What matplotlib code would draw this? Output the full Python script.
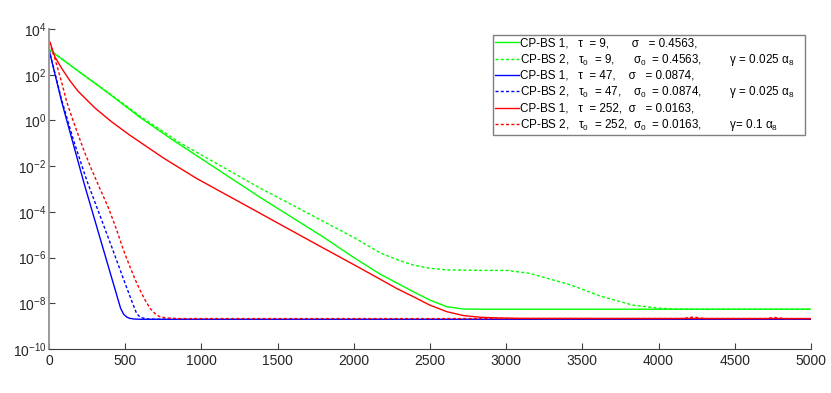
import matplotlib
matplotlib.use('Agg')
import matplotlib.pyplot as plt
from matplotlib.ticker import FixedLocator, FixedFormatter

plt.rcParams['font.family'] = ['Liberation Sans', 'DejaVu Sans']
plt.rcParams['mathtext.fontset'] = 'custom'
plt.rcParams['mathtext.rm'] = 'Liberation Sans'
plt.rcParams['mathtext.it'] = 'Liberation Sans:italic'

# CP-BS 1, tau = 9
g1_x = [0, 200, 400, 600, 800, 1000, 1383, 1800, 2000, 2172, 2280, 2390, 2499, 2610, 2719, 2828, 5000]
g1_y = [1.26e3, 132, 13.8, 1.32, 0.158, 2.1e-2, 4.4e-4, 7.9e-6, 1.0e-6, 1.9e-7, 7.9e-8,
        3.2e-8, 1.38e-8, 7.1e-9, 5.6e-9, 5.5e-9, 5.5e-9]

# CP-BS 2, tau0 = 9
g2_x = [0, 200, 400, 600, 859, 1056, 1384, 1514, 2000, 2172, 2280, 2390, 2499, 2610, 2828, 3003,
        3154, 3307, 3400, 3484, 3614, 3831, 3989, 4100, 4250, 5000]
g2_y = [1.26e3, 132, 14.5, 1.5, 0.105, 1.9e-2, 1.1e-3, 3.9e-4, 7.6e-6, 1.62e-6, 8.3e-7, 4.7e-7,
        3.4e-7, 2.9e-7, 2.75e-7, 2.75e-7, 2.04e-7, 1.05e-7, 7.1e-8, 4.5e-8, 2.1e-8, 8.3e-9,
        6.2e-9, 5.6e-9, 5.5e-9, 5.5e-9]

# CP-BS 1, tau = 47
b1_x = [0, 83, 230, 400, 470, 490, 510, 530, 560, 600, 5000]
b1_y = [1.26e3, 6.6, 1.78e-3, 2.34e-7, 6.0e-9, 3.3e-9, 2.5e-9, 2.19e-9, 2.04e-9, 2.0e-9, 2.0e-9]

# CP-BS 2, tau0 = 47
b2_x = [0, 83, 160, 247, 411, 500, 540, 575, 600, 620, 650, 700, 5000]
b2_y = [1.26e3, 7.9, 0.14, 2.45e-3, 3.0e-6, 7.2e-8, 1.41e-8, 3.55e-9, 2.4e-9, 2.24e-9,
        2.04e-9, 2.0e-9, 2.0e-9]

# CP-BS 1, tau = 252
r1_x = [0, 6, 39, 83, 138, 192, 302, 411, 531, 750, 969, 1297, 1515, 1800, 2000, 2171,
        2280, 2390, 2499, 2610, 2719, 2828, 2937, 3100, 5000]
r1_y = [1.6e3, 2.7e3, 603, 190, 53.7, 18.6, 3.47, 0.87, 0.224, 2.29e-2, 2.88e-3, 1.82e-4,
        2.88e-5, 2.6e-6, 4.9e-7, 1.15e-7, 4.5e-8, 1.95e-8, 8.3e-9, 4.3e-9, 2.9e-9, 2.45e-9,
        2.3e-9, 2.19e-9, 2.14e-9]

# CP-BS 2, tau0 = 252
r2_x = [0, 6, 20, 39, 57, 88, 116, 153, 192, 232, 280, 330, 390, 444, 490, 531, 565, 597,
        630, 663, 700, 728, 772, 850, 4150, 4230, 4300, 4700, 4760, 4820, 5000]
r2_y = [1.6e3, 2.7e3, 1.12e3, 500, 190, 35, 6.6, 1.23, 0.23, 4.3e-2, 7.0e-3, 1.2e-3,
        1.5e-4, 1.62e-5, 2.0e-6, 4.0e-7, 1.1e-7, 3.8e-8, 1.4e-8, 6.0e-9, 3.3e-9, 2.57e-9,
        2.29e-9, 2.14e-9, 2.14e-9, 2.5e-9, 2.14e-9, 2.14e-9, 2.4e-9, 2.14e-9, 2.14e-9]

labels = [
    'CP-BS 1,   τ  = 9,       σ   = 0.4563,',
    'CP-BS 2,   τ$_0$  = 9,      σ$_0$  = 0.4563,         γ = 0.025 α$_8$',
    'CP-BS 1,   τ  = 47,    σ   = 0.0874,',
    'CP-BS 2,   τ$_0$  = 47,    σ$_0$  = 0.0874,         γ = 0.025 α$_8$',
    'CP-BS 1,   τ  = 252,  σ   = 0.0163,',
    'CP-BS 2,   τ$_0$  = 252,  σ$_0$  = 0.0163,         γ= 0.1 α$_8$',
]

xticks = [0, 500, 1000, 1500, 2000, 2500, 3000, 3500, 4000, 4500, 5000]
yticks = [1e-10, 1e-8, 1e-6, 1e-4, 1e-2, 1e0, 1e2, 1e4]
ytick_labels = ['$10^{-10}$', '$10^{-8}$', '$10^{-6}$', '$10^{-4}$',
                '$10^{-2}$', '$10^{0}$', '$10^{2}$', '$10^{4}$']

fig = plt.figure(figsize=(8.31, 3.93), dpi=100)
ax = fig.add_axes([49 / 831, 1 - 349 / 393, (811 - 49) / 831, (349 - 29) / 393])

dash = (0, (2.2, 1.6))
lw = 1.0
ax.plot(g1_x, g1_y, color='#00ff00', lw=lw, label=labels[0])
ax.plot(g2_x, g2_y, color='#00ff00', lw=lw, ls=dash, label=labels[1])
ax.plot(b1_x, b1_y, color='#0000ff', lw=lw, label=labels[2])
ax.plot(b2_x, b2_y, color='#0000ff', lw=lw, ls=dash, label=labels[3])
ax.plot(r1_x, r1_y, color='#ff0000', lw=lw, label=labels[4])
ax.plot(r2_x, r2_y, color='#ff0000', lw=lw, ls=dash, label=labels[5])

ax.set_yscale('log')
ax.set_xlim(0, 5000)
ax.set_ylim(1e-10, 1e4)
ax.xaxis.set_major_locator(FixedLocator(xticks))
ax.yaxis.set_major_locator(FixedLocator(yticks))
ax.yaxis.set_major_formatter(FixedFormatter(ytick_labels))
ax.yaxis.set_minor_locator(FixedLocator([]))

ax.spines['top'].set_visible(False)
ax.spines['right'].set_visible(False)
ax.spines['left'].set_color('#9a9a9a')
ax.spines['left'].set_linewidth(1.4)
ax.spines['bottom'].set_color('#404040')
ax.spines['bottom'].set_linewidth(0.8)
ax.tick_params(direction='in', length=4, width=0.8, color='#404040',
               labelcolor='#262626', labelsize=10)
ax.tick_params(axis='y', pad=2)

# legend box: 493..805 px wide, top at 35 px
leg = ax.legend(loc='upper left',
                bbox_to_anchor=(493 / 831, 1 - 138 / 393, 312 / 831, 103 / 393),
                bbox_transform=fig.transFigure, mode='expand', fontsize=8.4,
                handlelength=2.0, handletextpad=0.1, labelspacing=0.2, borderpad=0.2,
                borderaxespad=0, fancybox=False, framealpha=1)
leg.get_frame().set_edgecolor('#7f7f7f')
leg.get_frame().set_linewidth(1.0)

fig.savefig('out.png', dpi=100)
